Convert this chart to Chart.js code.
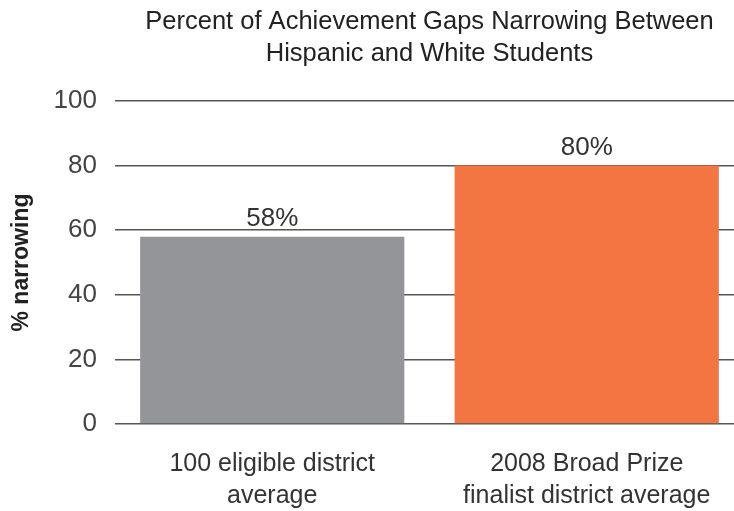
<!DOCTYPE html>
<html lang="en">
<head>
    <meta charset="UTF-8">
    <title>Percent of Achievement Gaps Narrowing</title>
    <script src="https://cdn.jsdelivr.net/npm/chart.js"></script>
    <style>
        html, body { margin: 0; padding: 0; overflow: hidden; background: #fff; }
    </style>
</head>
<body>
    <canvas id="gapChart" width="744" height="511"></canvas>
    <script>
        const categories = [
            ['100 eligible district', 'average'],
            ['2008 Broad Prize', 'finalist district average']
        ];
        const narrowing = [58, 80];
        const barColors = ['#939598', '#f37542'];
        const yTicks = [0, 20, 40, 60, 80, 100];

        // value labels above each bar
        const valueLabels = {
            id: 'valueLabels',
            afterDatasetsDraw(chart) {
                const ctx = chart.ctx;
                const meta = chart.getDatasetMeta(0);
                ctx.save();
                ctx.font = '26px "Liberation Sans"';
                ctx.fillStyle = '#333';
                ctx.textAlign = 'center';
                ctx.textBaseline = 'alphabetic';
                meta.data.forEach((bar, i) => {
                    ctx.fillText(narrowing[i] + '%', bar.x, bar.y - 11);
                });
                ctx.restore();
            }
        };

        const ctx = document.getElementById('gapChart').getContext('2d');
        new Chart(ctx, {
            type: 'bar',
            data: {
                labels: categories,
                datasets: [{
                    data: narrowing,
                    backgroundColor: barColors,
                    borderWidth: 0,
                    barPercentage: 0.84,
                    categoryPercentage: 1
                }]
            },
            options: {
                responsive: false,
                animation: false,
                layout: { padding: { top: 6, left: 8, right: 0, bottom: 0 } },
                plugins: {
                    legend: { display: false },
                    tooltip: { enabled: false },
                    title: {
                        display: true,
                        fullSize: false,
                        text: ['Percent of Achievement Gaps Narrowing Between', 'Hispanic and White Students'],
                        color: '#222',
                        font: { family: '"Liberation Sans"', size: 25.5, weight: 'normal', lineHeight: 1.255 },
                        padding: { top: 0, bottom: 31 }
                    }
                },
                scales: {
                    x: {
                        grid: { display: false, drawTicks: false },
                        border: { display: false },
                        ticks: {
                            color: '#333',
                            font: { family: '"Liberation Sans"', size: 25, lineHeight: 1.28 },
                            padding: 24,
                            maxRotation: 0,
                            autoSkip: false
                        },
                        afterFit(scale) {
                            scale.height = 87;
                        }
                    },
                    y: {
                        min: 0,
                        max: 100,
                        afterBuildTicks(axis) {
                            axis.ticks = yTicks.map(v => ({ value: v }));
                        },
                        grid: { color: '#555', lineWidth: 1.5, drawTicks: false },
                        border: { display: false },
                        ticks: {
                            color: '#444',
                            font: { family: '"Liberation Sans"', size: 26 },
                            padding: 18
                        },
                        title: {
                            display: true,
                            text: '% narrowing',
                            color: '#222',
                            font: { family: '"Liberation Sans"', size: 23, weight: 'bold' },
                            padding: { top: 0, bottom: 0 }
                        }
                    }
                }
            },
            plugins: [valueLabels]
        });
    </script>
</body>
</html>
